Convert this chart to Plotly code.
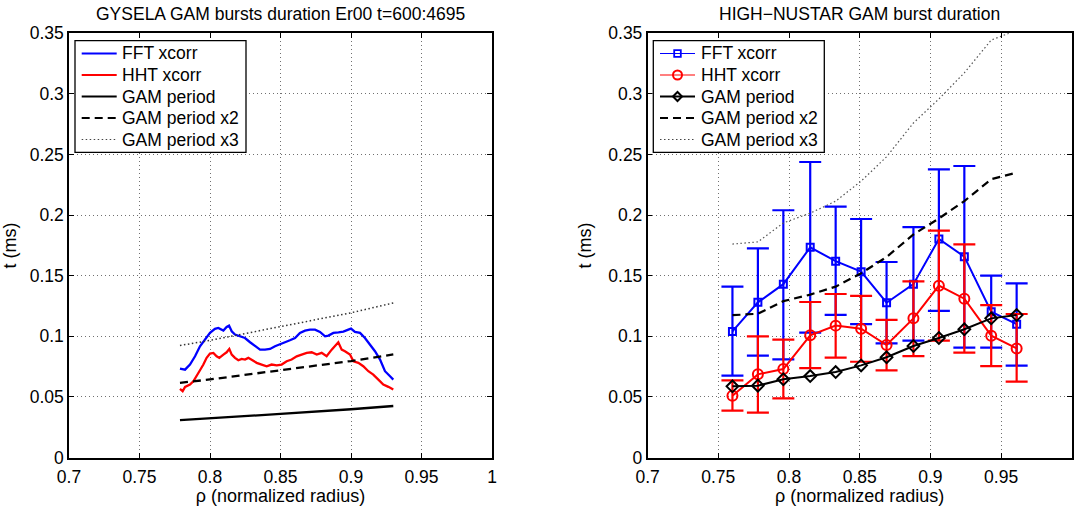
import plotly.graph_objects as go

W, H = 1076, 506

# ---------------- Left panel (GYSELA) ----------------
rho_fft_g = [0.7787, 0.7823, 0.7858, 0.7894, 0.7929, 0.7965, 0.8000, 0.8035, 0.8059, 0.8095,
             0.8118, 0.8135, 0.8154, 0.8177, 0.8213, 0.8248, 0.8284, 0.8319, 0.8355, 0.8390,
             0.8426, 0.8461, 0.8496, 0.8532, 0.8567, 0.8603, 0.8638, 0.8674, 0.8709, 0.8745,
             0.8780, 0.8816, 0.8840, 0.8875, 0.8911, 0.8946, 0.8981, 0.9000, 0.9028, 0.9064,
             0.9099, 0.9135, 0.9170, 0.9206, 0.9241, 0.9277, 0.9300]
t_fft_g = [0.0734, 0.0725, 0.0767, 0.0835, 0.0918, 0.0978, 0.1028, 0.1061, 0.1069, 0.1047,
           0.1077, 0.1088, 0.1041, 0.1014, 0.1000, 0.0986, 0.0951, 0.0918, 0.0890, 0.0890,
           0.0896, 0.0918, 0.0932, 0.0951, 0.0967, 0.0986, 0.1028, 0.1047, 0.1055, 0.1055,
           0.1036, 0.1000, 0.1006, 0.1028, 0.1033, 0.1039, 0.1055, 0.1063, 0.1036, 0.1028,
           0.0986, 0.0932, 0.0877, 0.0808, 0.0712, 0.0670, 0.0643]

rho_hht_g = [0.7787, 0.7806, 0.7823, 0.7858, 0.7882, 0.7906, 0.7929, 0.7953, 0.7976, 0.8000,
             0.8024, 0.8047, 0.8066, 0.8095, 0.8118, 0.8137, 0.8154, 0.8177, 0.8201, 0.8225,
             0.8248, 0.8272, 0.8307, 0.8331, 0.8366, 0.8402, 0.8437, 0.8473, 0.8508, 0.8544,
             0.8579, 0.8615, 0.8650, 0.8686, 0.8721, 0.8757, 0.8792, 0.8827, 0.8863, 0.8887,
             0.8910, 0.8934, 0.8957, 0.8993, 0.9017, 0.9052, 0.9087, 0.9123, 0.9158, 0.9194,
             0.9229, 0.9265, 0.9300]
t_hht_g = [0.0566, 0.0547, 0.0583, 0.0602, 0.0629, 0.0670, 0.0720, 0.0767, 0.0822, 0.0857,
           0.0863, 0.0835, 0.0822, 0.0849, 0.0868, 0.0896, 0.0849, 0.0822, 0.0802, 0.0813,
           0.0808, 0.0822, 0.0794, 0.0781, 0.0767, 0.0753, 0.0767, 0.0761, 0.0767, 0.0794,
           0.0808, 0.0835, 0.0849, 0.0863, 0.0868, 0.0849, 0.0863, 0.0835, 0.0890, 0.0918,
           0.0951, 0.0890, 0.0877, 0.0849, 0.0794, 0.0781, 0.0753, 0.0712, 0.0684, 0.0643,
           0.0602, 0.0583, 0.0561]

rho_gam_g = [0.7787, 0.80, 0.85, 0.90, 0.93]
t_gam_g = [0.0308, 0.0322, 0.0360, 0.0398, 0.0425]
t_gam2_g = [0.0616, 0.0644, 0.0720, 0.0796, 0.0850]
t_gam3_g = [0.0924, 0.0966, 0.1080, 0.1194, 0.1275]

# ---------------- Right panel (HIGH-NUSTAR) ----------------
rho_h = [0.760, 0.778, 0.796, 0.815, 0.833, 0.851, 0.869, 0.888, 0.906, 0.924, 0.943, 0.961]
fft_h = [0.104, 0.128, 0.143, 0.1734, 0.162, 0.1533, 0.1277, 0.143, 0.1803, 0.1657, 0.1203, 0.110]
fft_hi = [0.141, 0.1726, 0.204, 0.2438, 0.207, 0.1968, 0.1613, 0.190, 0.2378, 0.2405, 0.150, 0.1437]
fft_lo = [0.0675, 0.084, 0.081, 0.103, 0.1176, 0.110, 0.0942, 0.0964, 0.121, 0.0906, 0.0906, 0.0758]
hht_h = [0.051, 0.0686, 0.073, 0.1008, 0.1088, 0.1063, 0.0928, 0.1148, 0.1418, 0.131, 0.1005, 0.090]
hht_hi = [0.0637, 0.100, 0.0972, 0.1283, 0.1349, 0.1333, 0.1135, 0.1453, 0.1872, 0.1759, 0.1258, 0.1184]
hht_lo = [0.0386, 0.037, 0.0488, 0.0738, 0.0824, 0.079, 0.0719, 0.0837, 0.0964, 0.0866, 0.0754, 0.0626]
gam_h = [0.0587, 0.0593, 0.0645, 0.0672, 0.0705, 0.0760, 0.0827, 0.0920, 0.0986, 0.1058, 0.1148, 0.1175]
gam2_h = [0.1174, 0.1186, 0.1290, 0.1344, 0.1410, 0.1520, 0.1654, 0.1840, 0.1972, 0.2116, 0.2296, 0.2350]
gam3_h = [0.1761, 0.1779, 0.1935, 0.2016, 0.2115, 0.2280, 0.2481, 0.2760, 0.2958, 0.3174, 0.3444, 0.3525]

xtick_vals = [0.7, 0.75, 0.8, 0.85, 0.9, 0.95, 1.0]
xtick_text = ["0.7", "0.75", "0.8", "0.85", "0.9", "0.95", "1"]
ytick_vals = [0, 0.05, 0.1, 0.15, 0.2, 0.25, 0.3, 0.35]
ytick_text = ["0", "0.05", "0.1", "0.15", "0.2", "0.25", "0.3", "0.35"]

titles = ["GYSELA GAM bursts duration Er00 t=600:4695", "HIGH\u2212NUSTAR GAM burst duration"]
xlabel = "\u03c1 (normalized radius)"
ylabel = "t (ms)"
legend_names = ["FFT xcorr", "HHT xcorr", "GAM period", "GAM period x2", "GAM period x3"]

FONT = "Liberation Sans, Arial, Helvetica, sans-serif"
BLUE = "#0000ff"
RED = "#ff0000"
DASH = "8px,5px"
DOT = "1.5px,2.5px"

fig = go.Figure()

# left traces
fig.add_trace(go.Scatter(x=rho_fft_g, y=t_fft_g, mode="lines", name=legend_names[0],
                         line=dict(color=BLUE, width=2.3), xaxis="x", yaxis="y"))
fig.add_trace(go.Scatter(x=rho_hht_g, y=t_hht_g, mode="lines", name=legend_names[1],
                         line=dict(color=RED, width=2.3), xaxis="x", yaxis="y"))
fig.add_trace(go.Scatter(x=rho_gam_g, y=t_gam_g, mode="lines", name=legend_names[2],
                         line=dict(color="black", width=2.3), xaxis="x", yaxis="y"))
fig.add_trace(go.Scatter(x=rho_gam_g, y=t_gam2_g, mode="lines", name=legend_names[3],
                         line=dict(color="black", width=2.3, dash=DASH), xaxis="x", yaxis="y"))
fig.add_trace(go.Scatter(x=rho_gam_g, y=t_gam3_g, mode="lines", name=legend_names[4],
                         line=dict(color="#333333", width=1.5, dash=DOT), xaxis="x", yaxis="y"))

# right traces
fft_plus = [hi - c for hi, c in zip(fft_hi, fft_h)]
fft_minus = [c - lo for lo, c in zip(fft_lo, fft_h)]
hht_plus = [hi - c for hi, c in zip(hht_hi, hht_h)]
hht_minus = [c - lo for lo, c in zip(hht_lo, hht_h)]

fig.add_trace(go.Scatter(x=rho_h, y=fft_h, mode="lines+markers", name=legend_names[0],
                         line=dict(color=BLUE, width=2),
                         marker=dict(symbol="square-open", size=7, color=BLUE, line=dict(width=2, color=BLUE)),
                         error_y=dict(type="data", symmetric=False, array=fft_plus, arrayminus=fft_minus,
                                      color=BLUE, thickness=2.2, width=11),
                         xaxis="x2", yaxis="y2"))
fig.add_trace(go.Scatter(x=rho_h, y=hht_h, mode="lines+markers", name=legend_names[1],
                         line=dict(color=RED, width=2),
                         marker=dict(symbol="circle-open", size=10, color=RED, line=dict(width=2, color=RED)),
                         error_y=dict(type="data", symmetric=False, array=hht_plus, arrayminus=hht_minus,
                                      color=RED, thickness=2.2, width=11),
                         xaxis="x2", yaxis="y2"))
fig.add_trace(go.Scatter(x=rho_h, y=gam_h, mode="lines+markers", name=legend_names[2],
                         line=dict(color="black", width=2),
                         marker=dict(symbol="diamond-open", size=9, color="black", line=dict(width=2, color="black")),
                         xaxis="x2", yaxis="y2"))
fig.add_trace(go.Scatter(x=rho_h, y=gam2_h, mode="lines", name=legend_names[3],
                         line=dict(color="black", width=2.2, dash=DASH), xaxis="x2", yaxis="y2"))
fig.add_trace(go.Scatter(x=rho_h, y=gam3_h, mode="lines", name=legend_names[4],
                         line=dict(color="#555555", width=1.2, dash=DOT), xaxis="x2", yaxis="y2"))

YDOM = [(H - 457.5) / H, (H - 33.3) / H]
XDOM1 = [69 / W, 492 / W]
XDOM2 = [647.6 / W, 1071.8 / W]

def xax(domain, anchor):
    return dict(domain=domain, anchor=anchor, range=[0.7, 1.0], automargin=False,
                tickmode="array", tickvals=xtick_vals, ticktext=xtick_text,
                showline=True, mirror="ticks", linecolor="black", linewidth=1.5,
                ticks="inside", ticklen=5, tickwidth=1, tickcolor="black",
                showgrid=True, gridcolor="#707070", gridwidth=1, griddash="1px,3px",
                zeroline=False, tickfont=dict(family=FONT, size=17.5, color="black"),
                ticklabelstandoff=3,
                title=dict(text=xlabel, font=dict(family=FONT, size=18, color="black"), standoff=2))

def yax(anchor):
    return dict(domain=YDOM, anchor=anchor, range=[0, 0.35], automargin=False,
                tickmode="array", tickvals=ytick_vals, ticktext=ytick_text,
                showline=True, mirror="ticks", linecolor="black", linewidth=1.5,
                ticks="inside", ticklen=5, tickwidth=1, tickcolor="black",
                showgrid=True, gridcolor="#707070", gridwidth=1, griddash="1px,3px",
                zeroline=False, tickfont=dict(family=FONT, size=17.5, color="black"),
                title=dict(text=ylabel, font=dict(family=FONT, size=18, color="black"), standoff=12))

# ---------- hand-built legends (MATLAB style box) ----------
def px(x):
    return x / W

def py(y):
    return 1 - y / H

shapes = []
annotations = []

def build_legend(box, line_x0, line_x1, text_x, rows, entries):
    x0, y0, x1, y1 = box
    shapes.append(dict(type="rect", xref="paper", yref="paper", layer="above",
                       x0=px(x0), x1=px(x1), y0=py(y0), y1=py(y1),
                       line=dict(color="black", width=1.3), fillcolor="white"))
    for (name, color, width, dash, marker), ry in zip(entries, rows):
        shapes.append(dict(type="line", xref="paper", yref="paper", layer="above",
                           x0=px(line_x0), x1=px(line_x1), y0=py(ry), y1=py(ry),
                           line=dict(color=color, width=width, dash=dash)))
        cx = (line_x0 + line_x1) / 2
        if marker == "square":
            s = 3.3
            shapes.append(dict(type="rect", xref="paper", yref="paper", layer="above",
                               x0=px(cx - s), x1=px(cx + s), y0=py(ry - s), y1=py(ry + s),
                               line=dict(color=color, width=1.8), fillcolor="rgba(0,0,0,0)"))
        elif marker == "circle":
            r = 4.5
            shapes.append(dict(type="circle", xref="paper", yref="paper", layer="above",
                               x0=px(cx - r), x1=px(cx + r), y0=py(ry - r), y1=py(ry + r),
                               line=dict(color=color, width=2), fillcolor="rgba(0,0,0,0)"))
        elif marker == "diamond":
            r = 4.5
            path = "M {a},{b} L {c},{d} L {e},{b} L {c},{f} Z".format(
                a=px(cx - r), b=py(ry), c=px(cx), d=py(ry - r), e=px(cx + r), f=py(ry + r))
            shapes.append(dict(type="path", xref="paper", yref="paper", layer="above", path=path,
                               line=dict(color=color, width=2), fillcolor="rgba(0,0,0,0)"))
        annotations.append(dict(text=name, x=px(text_x), y=py(ry), xref="paper", yref="paper",
                                showarrow=False, xanchor="left", yanchor="middle",
                                font=dict(family=FONT, size=17.5, color="black")))

rows = [53.5, 75.0, 96.5, 118.0, 139.5]
build_legend((75, 40.7, 246, 152.3), 81.7, 116.7, 119.5, rows, [
    (legend_names[0], BLUE, 2, "solid", None),
    (legend_names[1], RED, 2, "solid", None),
    (legend_names[2], "black", 2, "solid", None),
    (legend_names[3], "black", 2, DASH, None),
    (legend_names[4], "#444444", 1, DOT, None),
])
build_legend((653.3, 40.7, 824.3, 152.3), 660, 695, 698.5, rows, [
    (legend_names[0], BLUE, 1.2, "solid", "square"),
    (legend_names[1], RED, 1.2, "solid", "circle"),
    (legend_names[2], "black", 2, "solid", "diamond"),
    (legend_names[3], "black", 2, DASH, None),
    (legend_names[4], "#444444", 1, DOT, None),
])

for i, dom in enumerate([XDOM1, XDOM2]):
    annotations.append(dict(text=titles[i], x=(dom[0] + dom[1]) / 2, y=py(14), xref="paper", yref="paper",
                            showarrow=False, xanchor="center", yanchor="middle",
                            font=dict(family=FONT, size=17.5, color="black")))

fig.update_layout(
    width=W, height=H,
    margin=dict(l=0, r=0, t=0, b=0),
    paper_bgcolor="white", plot_bgcolor="white",
    font=dict(family=FONT, color="black"),
    xaxis=xax(XDOM1, "y"), yaxis=yax("x"),
    xaxis2=xax(XDOM2, "y2"), yaxis2=yax("x2"),
    showlegend=False,
    shapes=shapes,
    annotations=annotations,
)

fig.write_html("out.html")
